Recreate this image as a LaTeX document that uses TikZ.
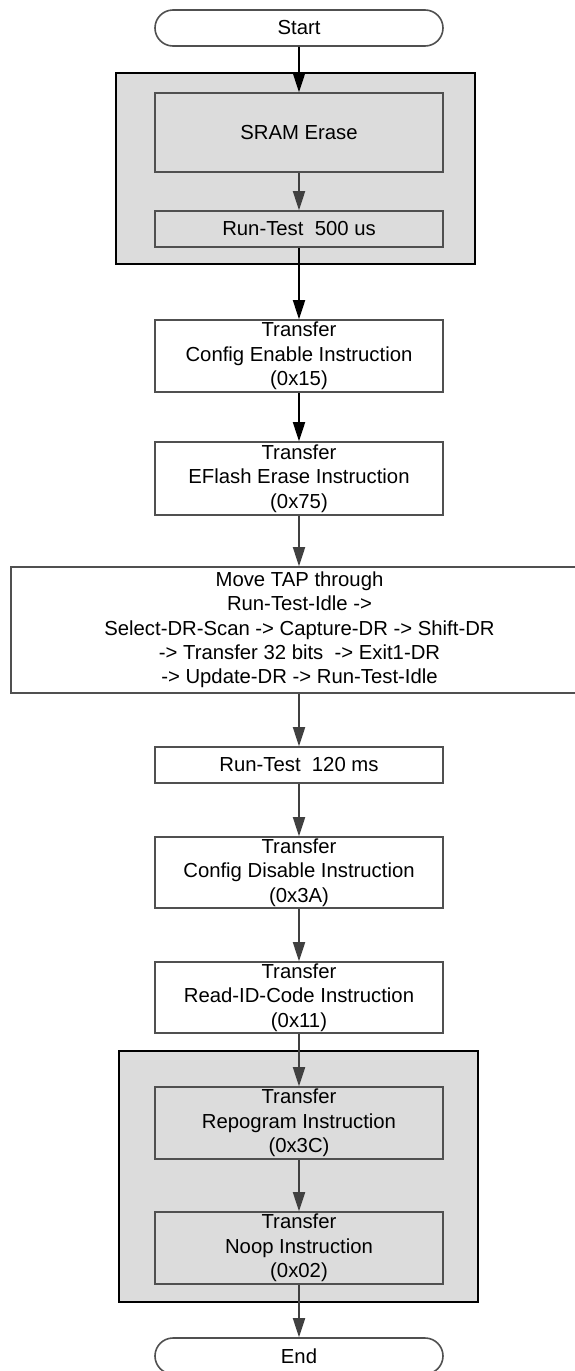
\documentclass[tikz,border=0pt]{standalone}
\usepackage{fontspec}
\setmainfont{Liberation Sans}
\usetikzlibrary{arrows.meta,shapes.misc}
\definecolor{grp}{HTML}{DCDCDC}
\definecolor{bord}{HTML}{505050}
\definecolor{arr}{HTML}{404040}
\tikzset{
  box/.style={draw=bord, line width=1.6pt, fill=white, minimum width=288pt, inner sep=0pt, align=center, font=\fontsize{20.3}{24.3}\selectfont},
  gbox/.style={box, fill=grp},
  term/.style={box, rounded rectangle, minimum height=36pt},
  group/.style={draw=black, line width=1.5pt, fill=grp},
  flow/.style={draw=arr, line width=1.8pt, -{Triangle[length=19pt,width=12pt]}},
  flowk/.style={flow, draw=black}
}
\begin{document}
\begin{tikzpicture}[x=1pt,y=-1pt]
\path[use as bounding box] (0,0) rectangle (575,1371);
\begin{scope}
\clip (0,0) rectangle (575,1371);
\draw[group] (116,73) rectangle (475,264);
\draw[group] (119,1051) rectangle (478,1302);

\node[term] (start) at (299,28) {Start};
\node[gbox, minimum height=79pt] (sram) at (299,132.5) {SRAM Erase};
\node[gbox, minimum height=36pt] (rt500) at (299,229) {Run-Test\ \ 500 us};
\node[box, minimum height=72pt] (cfgen) at (299,356) {Transfer\\Config Enable Instruction\\(0x15)};
\node[box, minimum height=73pt] (eflash) at (299,478.5) {Transfer\\EFlash Erase Instruction\\(0x75)};
\node[box, minimum width=577pt, minimum height=126pt] (tap) at (299.5,630) {Move TAP through\\Run-Test-Idle ->\\Select-DR-Scan -> Capture-DR -> Shift-DR\\-> Transfer 32 bits\ \ -> Exit1-DR\\-> Update-DR -> Run-Test-Idle};
\node[box, minimum height=36pt] (rt120) at (299,765) {Run-Test\ \ 120 ms};
\node[box, minimum height=71pt] (cfgdis) at (299,872.5) {Transfer\\Config Disable Instruction\\(0x3A)};
\node[box, minimum height=71pt] (readid) at (299,997.5) {Transfer\\Read-ID-Code Instruction\\(0x11)};
\node[gbox, minimum height=72pt] (repo) at (299,1123) {Transfer\\Repogram Instruction\\(0x3C)};
\node[gbox, minimum height=72pt] (noop) at (299,1248) {Transfer\\Noop Instruction\\(0x02)};
\node[term] (end) at (299,1356) {End};

\draw[flowk] (start) -- (sram);
\draw[flow] (sram) -- (rt500);
\draw[flowk] (rt500) -- (cfgen);
\draw[flowk] (cfgen) -- (eflash);
\draw[flow] (eflash) -- (tap.north -| eflash);
\draw[flow] (tap.south -| eflash) -- (rt120);
\draw[flow] (rt120) -- (cfgdis);
\draw[flow] (cfgdis) -- (readid);
\draw[flow] (readid) -- (repo);
\draw[flow] (repo) -- (noop);
\draw[flow] (noop) -- (end);
\end{scope}
\end{tikzpicture}
\end{document}
